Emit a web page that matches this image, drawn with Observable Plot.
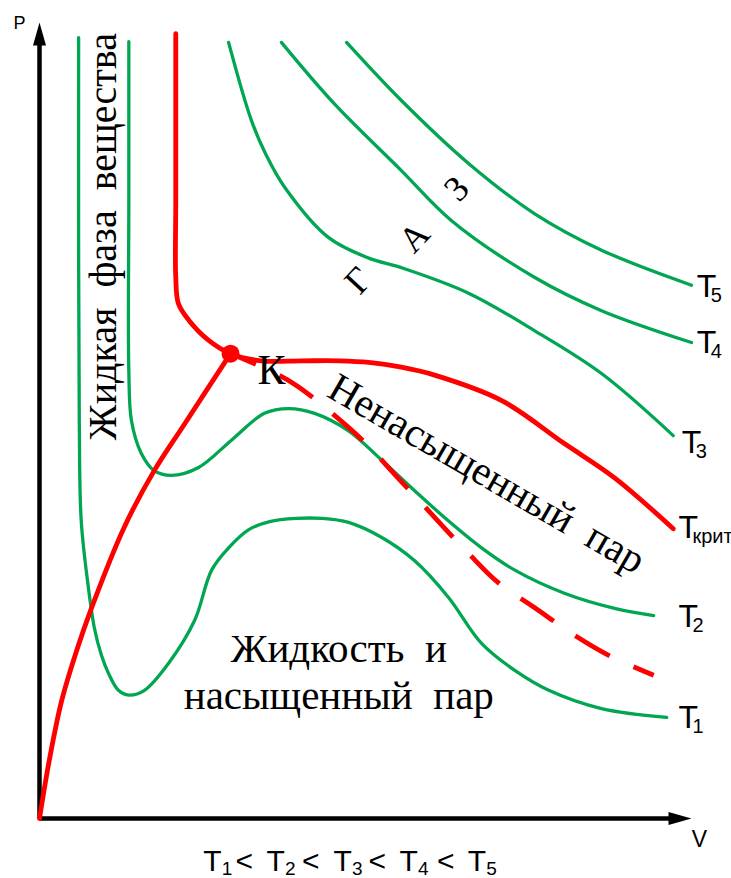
<!DOCTYPE html>
<html><head><meta charset="utf-8">
<script src="https://cdn.jsdelivr.net/npm/d3@7"></script>
<script src="https://cdn.jsdelivr.net/npm/@observablehq/plot@0.6"></script>
<style>
body{margin:0;background:#fff;}
</style></head><body><div id="wrap"></div>
<script>
// ---- data (V, P in arbitrary units) ----
const t1V = [6.0, 6.0, 6.1, 6.4, 7.5, 8.4, 9.5, 10.6, 12.1, 13.7, 16.1, 19.8, 23.8, 26.4, 29.0, 32.1, 35.3, 39.4, 43.3, 47.4, 52.5, 57.5, 62.7, 67.8, 72.9, 78.1, 86.2, 96.2];
const t1P = [98.1, 71.4, 50.0, 37.4, 29.0, 24.0, 20.5, 18.2, 16.1, 15.5, 16.1, 19.5, 24.9, 31.2, 34.0, 36.3, 37.3, 37.7, 37.7, 37.2, 35.3, 32.4, 27.8, 22.0, 18.6, 16.1, 13.8, 12.7];
const t2V = [13.7, 13.7, 13.7, 14.1, 15.6, 17.6, 20.2, 24.4, 29.4, 34.5, 38.2, 42.2, 47.4, 52.5, 57.5, 62.7, 67.8, 72.9, 80.5, 88.2, 94.2];
const t2P = [97.6, 77.6, 56.3, 50.0, 45.9, 43.7, 43.1, 44.1, 47.5, 50.9, 51.5, 50.9, 48.7, 45.0, 41.2, 37.4, 34.0, 31.2, 28.3, 26.4, 25.5];
const t3V = [29.0, 32.5, 34.8, 37.6, 44.3, 50.5, 55.5, 65.8, 75.9, 86.2, 97.2];
const t3P = [97.5, 87.7, 83.3, 79.3, 73.0, 70.4, 69.2, 66.0, 61.3, 55.9, 48.1];
const t4V = [37.1, 45.2, 55.5, 63.2, 75.9, 86.2, 100];
const t4P = [97.5, 89.8, 81.4, 75.1, 68.0, 63.8, 59.8];
const t5V = [47.1, 55.5, 65.8, 75.9, 86.2, 100];
const t5P = [97.5, 90.2, 82.3, 76.0, 71.4, 67.0];
const tcV = [20.9, 20.9, 20.9, 21.3, 22.9, 25.9, 29.3, 34.0, 40.2, 46.0, 50.5, 55.5, 60.6, 70.9, 80.5, 88.2, 97.2];
const tcP = [98.6, 77.6, 68.0, 64.7, 62.6, 60.1, 58.4, 57.5, 57.5, 57.5, 57.3, 56.7, 55.7, 52.5, 47.1, 42.8, 36.4];
const liqBranchV = [0, 1.5, 3.4, 5.7, 8.0, 13.0, 17.6, 22.2, 29.3];
const liqBranchP = [0, 7.3, 14.8, 21.1, 26.5, 36.6, 43.7, 49.5, 58.4];
const vapBranchV = [29.3, 36.0, 39.4, 44.3, 49.7, 54.4, 58.6, 65.8, 70.4, 75.9, 82.1, 87.3, 94.2];
const vapBranchP = [58.4, 56.0, 54.4, 51.3, 47.4, 43.3, 39.6, 33.3, 29.6, 26.5, 23.0, 20.5, 18.0];
const critV = [29.3];
const critP = [58.4];

// labels
const tempNames   = ["5", "4", "3", "крит", "2", "1"];
const tempLabelV  = [100.8, 100.8, 98.5, 98.0, 98.0, 98.0];
const tempLabelP  = [65.5, 58.5, 45.9, 35.2, 24.0, 11.4];
const gasLetters  = ["Г", "А", "З"];
const gasV        = [48.9, 57.5, 64.0];
const gasP        = [67.6, 73.0, 79.1];
const twoPhaseLines = ["Жидкость\u00a0 и", "насыщенный\u00a0 пар"];
const twoPhaseV   = [45.9, 45.9];
const twoPhaseP   = [19.6, 13.8];
const captionTemps = ["1", "2", "3", "4", "5"];
const captionTV    = [25.1, 34.8, 45.1, 55.2, 65.7];
const captionLtV   = [31.4, 41.6, 51.8, 62.3];
const captionP     = -6.6;
const axisTipV = [0, 100];
const axisTipP = [100, 0];
const axisTipRot = [0, 90];

// ---- helpers ----
const pts = (V, P) => V.map((v, i) => ({V: v, P: P[i]}));
const GREEN = "#00a651", RED = "#ff0000";
const SANS = "'Liberation Sans', Arial, sans-serif";
const SERIF = "'Liberation Serif', 'Times New Roman', serif";
const arrowHead = {draw(ctx) { ctx.moveTo(0, 0); ctx.lineTo(-6.5, 23); ctx.lineTo(6.5, 23); ctx.closePath(); }};

const isotherms = [[t1V, t1P], [t2V, t2P], [t3V, t3P], [t4V, t4P], [t5V, t5P]];

const chart = Plot.plot({
  width: 731, height: 878,
  marginLeft: 39, marginRight: 40, marginTop: 22, marginBottom: 60,
  x: {domain: [0, 100], axis: null},
  y: {domain: [0, 100], axis: null},
  style: {background: "white", overflow: "visible"},
  marks: [
    Plot.ruleX([0], {y1: 0, y2: 98.5, stroke: "black", strokeWidth: 4.5}),
    Plot.ruleY([0], {x1: 0, x2: 98.5, stroke: "black", strokeWidth: 4.5}),
    Plot.dot(axisTipV.map((v, i) => ({V: v, P: axisTipP[i], rot: axisTipRot[i]})),
      {x: "V", y: "P", rotate: "rot", symbol: arrowHead, fill: "black"}),
    ...isotherms.map(([V, P]) => Plot.line(pts(V, P), {x: "V", y: "P", curve: "catmull-rom",
      stroke: GREEN, strokeWidth: 3.3, strokeLinecap: "round"})),
    Plot.line(pts(tcV, tcP), {x: "V", y: "P", curve: "catmull-rom", stroke: RED, strokeWidth: 4.8, strokeLinecap: "round"}),
    Plot.line(pts(liqBranchV, liqBranchP), {x: "V", y: "P", curve: "catmull-rom", stroke: RED, strokeWidth: 4.8, strokeLinecap: "round"}),
    Plot.line(pts(vapBranchV, vapBranchP), {x: "V", y: "P", curve: "catmull-rom", stroke: RED, strokeWidth: 4.8,
      strokeDasharray: "40,26", strokeLinecap: "butt"}),
    Plot.dot(pts(critV, critP), {x: "V", y: "P", r: 9, fill: RED}),
    // axis letters
    Plot.text(["P"], {x: () => 0, y: () => 100, text: d => d, dx: -20, dy: 1, fontSize: 18, fontFamily: SANS, lineAnchor: "middle"}),
    Plot.text(["V"], {x: () => 100, y: () => 0, text: d => d, dx: 8, dy: 21, fontSize: 23, fontFamily: SANS, lineAnchor: "middle"}),
    // isotherm labels
    Plot.text(tempNames, {x: (d, i) => tempLabelV[i], y: (d, i) => tempLabelP[i], text: () => "T",
      textAnchor: "start", lineAnchor: "bottom", fontSize: 32, fontFamily: SANS}),
    Plot.text(tempNames, {x: (d, i) => tempLabelV[i], y: (d, i) => tempLabelP[i], text: d => d,
      textAnchor: "start", lineAnchor: "bottom", dx: 14, dy: 5, fontSize: 20, fontFamily: SANS}),
    // region labels
    Plot.text(["Жидкая\u00a0 фаза\u00a0 вещества"], {x: () => 11.8, y: () => 73.1, text: d => d, rotate: -90,
      lineAnchor: "bottom", fontSize: 40, fontFamily: SERIF}),
    Plot.text(gasLetters, {x: (d, i) => gasV[i], y: (d, i) => gasP[i], text: d => d, rotate: -47,
      lineAnchor: "middle", fontSize: 36, fontFamily: SERIF}),
    Plot.text(["К"], {x: () => 35.6, y: () => 54.6, text: d => d, lineAnchor: "bottom", fontSize: 42, fontFamily: SERIF}),
    Plot.text(["Ненасыщенный\u00a0 пар"], {x: () => 68.6, y: () => 43.3, text: d => d, rotate: 30,
      lineAnchor: "middle", fontSize: 41, fontFamily: SERIF}),
    Plot.text(twoPhaseLines, {x: (d, i) => twoPhaseV[i], y: (d, i) => twoPhaseP[i], text: d => d,
      lineAnchor: "bottom", fontSize: 41, fontFamily: SERIF}),
    // caption  T1 < T2 < T3 < T4 < T5
    Plot.text(captionTemps, {x: (d, i) => captionTV[i], y: () => captionP, text: () => "T",
      textAnchor: "start", lineAnchor: "bottom", fontSize: 30, fontFamily: SANS}),
    Plot.text(captionTemps, {x: (d, i) => captionTV[i], y: () => captionP, text: d => d,
      textAnchor: "start", lineAnchor: "bottom", dx: 18.5, dy: 4, fontSize: 19, fontFamily: SANS}),
    Plot.text(captionLtV, {x: d => d, y: () => captionP, text: () => "<",
      textAnchor: "middle", lineAnchor: "bottom", fontSize: 30, fontFamily: SANS})
  ]
});
document.getElementById("wrap").appendChild(chart);

// make the dashed branch end on a short dash, as in the reference
const dashedGroup = chart.querySelector("[stroke-dasharray]");
const dashedPath = dashedGroup && dashedGroup.querySelector("path");
if (dashedPath) {
  const L = dashedPath.getTotalLength();
  const period = 66;
  const offset = (((22 - L) % period) + period) % period;
  dashedPath.setAttribute("stroke-dashoffset", offset);
}
</script>
</body></html>
